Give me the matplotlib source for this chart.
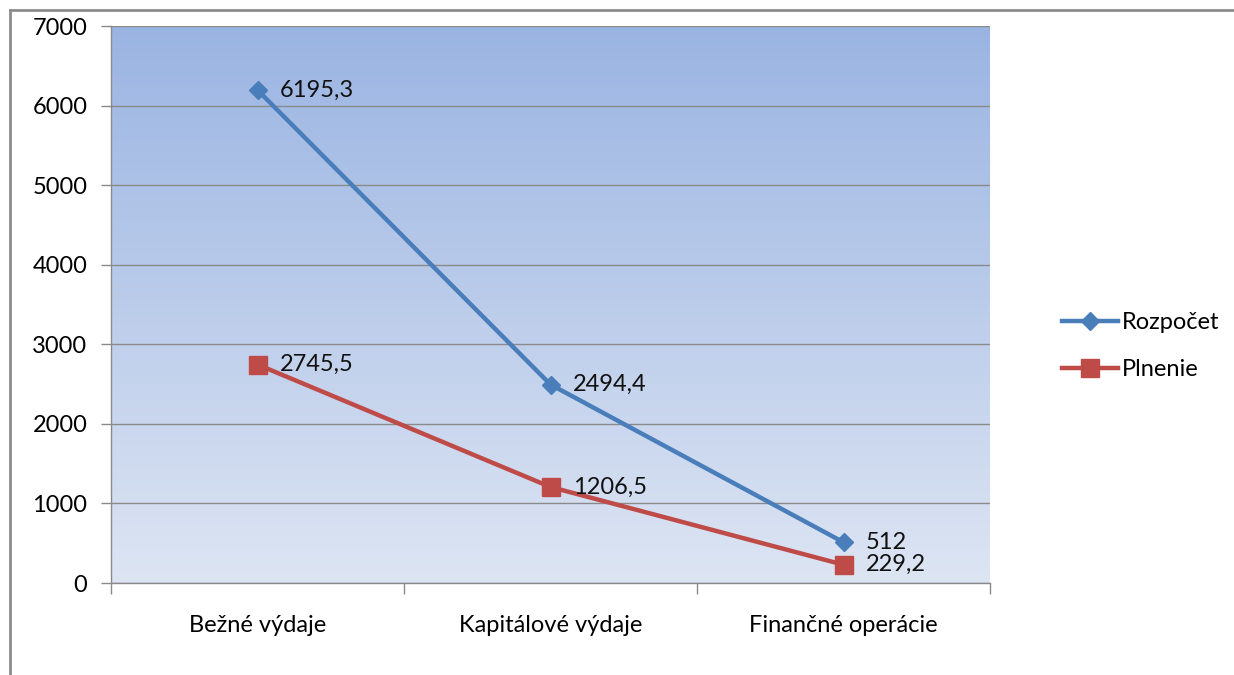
import numpy as np
import matplotlib
matplotlib.use("Agg")
from matplotlib import pyplot as plt
from matplotlib.lines import Line2D
from matplotlib.colors import LinearSegmentedColormap

plt.rcParams['font.family'] = ['Lato', 'DejaVu Sans']

categories = ["Bežné výdaje", "Kapitálové výdaje", "Finančné operácie"]
rozpocet = [6195.3, 2494.4, 512]
plnenie = [2745.5, 1206.5, 229.2]
rozpocet_labels = ["6195,3", "2494,4", "512"]
plnenie_labels = ["2745,5", "1206,5", "229,2"]

fs = 17

fig = plt.figure(figsize=(12.34, 6.75), dpi=100)
ax = fig.add_axes([111 / 1234, 1 - 583 / 675, (990 - 111) / 1234, (583 - 26) / 675])

# gradient background of plot area
cmap = LinearSegmentedColormap.from_list("bg", ["#dde5f3", "#9ab4e2"])
grad = np.linspace(0, 1, 256).reshape(-1, 1)
ax.imshow(grad, aspect='auto', cmap=cmap, origin='lower',
          extent=[-0.5, 2.5, 0, 7000], zorder=0)

x = np.arange(len(categories))
ax.plot(x, rozpocet, color='#4a7ebb', lw=3.2, marker='D', ms=9,
        label='Rozpočet', zorder=3)
ax.plot(x, plnenie, color='#be4b48', lw=3.2, marker='s', ms=13,
        label='Plnenie', zorder=3)

for xi, v, t in zip(x, rozpocet, rozpocet_labels):
    ax.annotate(t, (xi, v), xytext=(16, 0), textcoords='offset points',
                va='center', ha='left', fontsize=fs, color='#111111', zorder=4)
for xi, v, t in zip(x, plnenie, plnenie_labels):
    ax.annotate(t, (xi, v), xytext=(16, 0), textcoords='offset points',
                va='center', ha='left', fontsize=fs, color='#111111', zorder=4)

ax.set_xlim(-0.5, 2.5)
ax.set_ylim(0, 7000)
ax.set_yticks(range(0, 7001, 1000))
ax.yaxis.grid(True, color='#8a8a8a', lw=1)
ax.set_axisbelow(False)
for gl in ax.get_ygridlines():
    gl.set_zorder(1)

ax.set_xticks(x)
ax.set_xticklabels(categories, fontsize=fs)
ax.set_xticks([-0.5, 0.5, 1.5, 2.5], minor=True)
ax.tick_params(axis='x', which='major', length=0, pad=23)
ax.tick_params(axis='x', which='minor', length=8, color='#8a8a8a', width=1)
ax.tick_params(axis='y', length=7, color='#8a8a8a', width=1, labelsize=fs, pad=10)

for s in ['top', 'right']:
    ax.spines[s].set_visible(False)
for s in ['left', 'bottom']:
    ax.spines[s].set_color('#8a8a8a')
    ax.spines[s].set_linewidth(1)

leg = fig.legend(loc='upper left', bbox_to_anchor=(1050 / 1234, 1 - 300 / 675),
                 frameon=False, fontsize=fs, handlelength=2.4, handletextpad=0.15,
                 labelspacing=1.1, borderpad=0)

# outer chart frame
fig.add_artist(Line2D([10 / 1234, 10 / 1234], [0, 1 - 10 / 675], color='#8c8c8c', lw=2))
fig.add_artist(Line2D([10 / 1234, 1], [1 - 10 / 675, 1 - 10 / 675], color='#8c8c8c', lw=2))

fig.savefig("out.png", dpi=100)
